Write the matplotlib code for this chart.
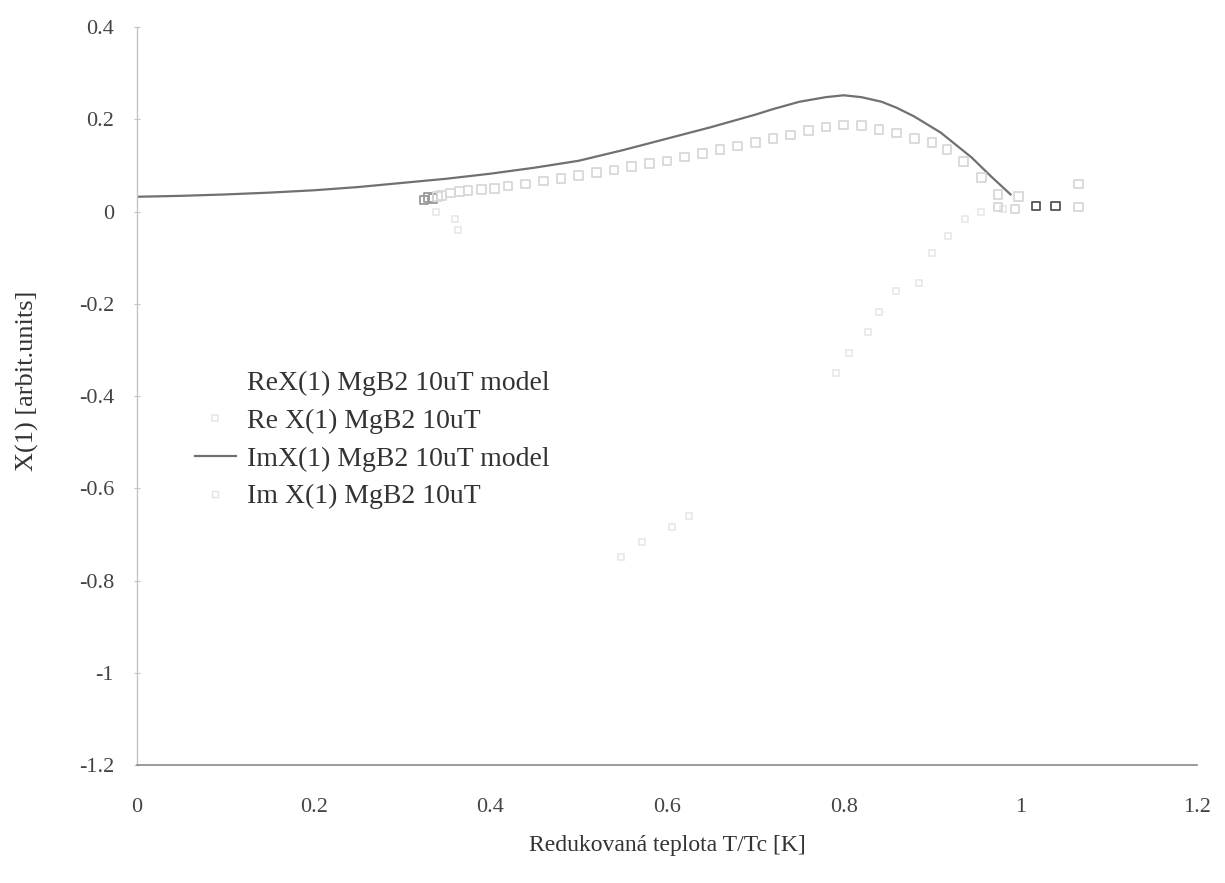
import numpy as np
import matplotlib
matplotlib.use("Agg")
import matplotlib.pyplot as plt

plt.rcParams['font.family'] = ['Liberation Serif', 'DejaVu Serif']

# model curve (solid line)
im_model_x = [0.0, 0.05, 0.1, 0.15, 0.2, 0.25, 0.3, 0.35, 0.4, 0.45, 0.5, 0.55,
              0.6, 0.65, 0.7, 0.72, 0.75, 0.78, 0.8, 0.82, 0.843, 0.86, 0.88,
              0.91, 0.945, 0.967, 0.989]
im_model_y = [0.032, 0.034, 0.037, 0.041, 0.046, 0.053, 0.062, 0.071, 0.082,
              0.095, 0.11, 0.133, 0.158, 0.183, 0.21, 0.222, 0.238, 0.248,
              0.252, 0.248, 0.238, 0.225, 0.206, 0.171, 0.117, 0.076, 0.037]

# measured Im part (hollow squares)
im_data_x = [0.325, 0.33, 0.335, 0.34, 0.345, 0.355, 0.365, 0.375, 0.39, 0.405,
             0.42, 0.44, 0.46, 0.48, 0.50, 0.52, 0.54, 0.56, 0.58, 0.60, 0.62,
             0.64, 0.66, 0.68, 0.70, 0.72, 0.74, 0.76, 0.78, 0.80, 0.82, 0.84,
             0.86, 0.88, 0.90, 0.917, 0.936, 0.956, 0.975, 0.975, 0.994, 0.998,
             1.018, 1.04, 1.066, 1.066]
im_data_y = [0.025, 0.03, 0.028, 0.033, 0.035, 0.04, 0.043, 0.045, 0.048, 0.05,
             0.055, 0.06, 0.066, 0.072, 0.078, 0.085, 0.09, 0.097, 0.104, 0.11,
             0.118, 0.126, 0.134, 0.142, 0.15, 0.158, 0.166, 0.176, 0.183, 0.188,
             0.186, 0.178, 0.17, 0.158, 0.15, 0.134, 0.108, 0.074, 0.037, 0.01,
             0.005, 0.033, 0.012, 0.012, 0.06, 0.01]

# measured Re part (very faint in the scan)
re_data_x = [0.339, 0.36, 0.363, 0.548, 0.572, 0.606, 0.625, 0.791, 0.806,
             0.828, 0.84, 0.859, 0.885, 0.9, 0.918, 0.937, 0.956, 0.98]
re_data_y = [0.0, -0.017, -0.04, -0.75, -0.717, -0.683, -0.661, -0.349, -0.306,
             -0.262, -0.217, -0.173, -0.154, -0.09, -0.054, -0.017, 0.0, 0.005]

labels = ["ReX(1) MgB2 10uT model", "Re X(1) MgB2 10uT",
          "ImX(1) MgB2 10uT model", "Im X(1) MgB2 10uT"]

fig = plt.figure(figsize=(12.25, 8.83), dpi=100)
ax = fig.add_axes([0.1118, 0.1336, 0.8653, 0.8358])

ax.plot([], [], color='white', lw=1.2, label=labels[0])
ax.plot(re_data_x, re_data_y, ls='none', marker='s', ms=5, mfc='none',
        mec='#e8e8e8', mew=1.2, label=labels[1])
ax.plot(im_model_x, im_model_y, color='#707070', lw=1.6, label=labels[2])

edge = ['#d8d8d8'] * len(im_data_x)
edge[0] = edge[1] = edge[2] = '#9a9a9a'
edge[im_data_x.index(1.018)] = '#555555'
edge[im_data_x.index(1.04)] = '#555555'
ax.scatter(im_data_x, im_data_y, marker='s', s=38, facecolors='none',
           edgecolors=edge, linewidths=1.3, zorder=3)
ax.plot([], [], ls='none', marker='s', ms=5, mfc='none', mec='#e4e4e4',
        mew=1.0, label=labels[3])

ax.set_xlim(0, 1.2)
ax.set_ylim(-1.2, 0.4)
ax.set_xticks([0, 0.2, 0.4, 0.6, 0.8, 1, 1.2])
ax.set_xticklabels(['0', '0.2', '0.4', '0.6', '0.8', '1', '1.2'])
ax.set_yticks([0.4, 0.2, 0, -0.2, -0.4, -0.6, -0.8, -1, -1.2])
ax.set_yticklabels(['0.4', '0.2', '0', '-0.2', '-0.4', '-0.6', '-0.8', '-1', '-1.2'])

for s in ['top', 'right']:
    ax.spines[s].set_visible(False)
ax.spines['left'].set_color('#c4c4c4')
ax.spines['bottom'].set_color('#8a8a8a')
ax.spines['left'].set_linewidth(1.0)
ax.spines['bottom'].set_linewidth(1.2)

ax.tick_params(axis='x', length=0, pad=24, labelsize=16, labelcolor='#444444')
ax.tick_params(axis='y', direction='inout', length=5, color='#c4c4c4',
               pad=14, labelsize=16, labelcolor='#444444')

ax.set_xlabel('Redukovaná teplota T/Tc [K]', fontsize=17, color='#333333')
ax.xaxis.set_label_coords(0.5, -0.095)
ax.set_ylabel('X(1) [arbit.units]', fontsize=19, color='#333333')
ax.yaxis.set_label_coords(-0.092, 0.52)

leg = ax.legend(loc='upper left', bbox_to_anchor=(0.055, 0.535), frameon=False,
                fontsize=20, labelspacing=0.45, handlelength=1.45,
                handletextpad=0.4, borderpad=0, borderaxespad=0)
for t in leg.get_texts():
    t.set_color('#333333')

fig.savefig('out.png', dpi=100)
